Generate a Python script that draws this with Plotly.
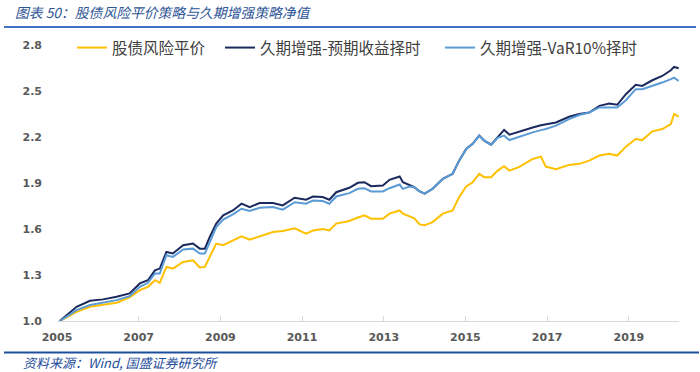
import plotly.graph_objects as go

# ---- data ----
dates = [
    "2005-01-26", "2005-06-25", "2005-10-23", "2006-02-17", "2006-06-18", "2006-10-12",
    "2007-01-12", "2007-03-25", "2007-05-27", "2007-07-09", "2007-09-06", "2007-11-03",
    "2008-02-03", "2008-05-01", "2008-07-01", "2008-08-15", "2008-09-28", "2008-11-25",
    "2009-01-26", "2009-04-23", "2009-07-09", "2009-09-20", "2009-12-17", "2010-04-16",
    "2010-07-13", "2010-10-27", "2011-02-06", "2011-04-09", "2011-07-05", "2011-09-02",
    "2011-11-03", "2012-02-28", "2012-05-15", "2012-07-12", "2012-09-09", "2012-12-24",
    "2013-02-21", "2013-05-23", "2013-06-21", "2013-08-18", "2013-10-01", "2013-11-18",
    "2014-01-01", "2014-03-14", "2014-06-13", "2014-09-09", "2014-11-06", "2015-01-08",
    "2015-03-07", "2015-05-05", "2015-06-18", "2015-08-19", "2015-10-16", "2015-12-13",
    "2016-01-30", "2016-04-27", "2016-08-25", "2016-11-06", "2016-12-20", "2017-03-21",
    "2017-07-16", "2017-10-15", "2018-01-12", "2018-04-13", "2018-07-09", "2018-09-20",
    "2018-12-06", "2019-03-04", "2019-05-01", "2019-07-31", "2019-10-27", "2020-01-12",
    "2020-02-10", "2020-03-22",
]

risk_parity = [
    1.0, 1.06, 1.093, 1.106, 1.119, 1.154, 1.201, 1.223, 1.266, 1.249, 1.353, 1.342,
    1.385, 1.396, 1.349, 1.353, 1.418, 1.505, 1.494, 1.526, 1.552, 1.531, 1.552, 1.58,
    1.587, 1.605, 1.57, 1.59, 1.60, 1.591, 1.635, 1.652, 1.675, 1.689, 1.667, 1.667,
    1.70, 1.721, 1.70, 1.685, 1.67, 1.63, 1.624, 1.645, 1.70, 1.721, 1.808, 1.877,
    1.905, 1.96, 1.938, 1.938, 1.981, 2.01, 1.981, 2.005, 2.057, 2.072, 2.007, 1.99,
    2.018, 2.025, 2.046, 2.079, 2.09, 2.079, 2.137, 2.187, 2.18, 2.237, 2.252, 2.284,
    2.35, 2.332,
]

duration_expected = [
    1.0, 1.093, 1.132, 1.141, 1.158, 1.18, 1.245, 1.266, 1.33, 1.342, 1.45, 1.44,
    1.494, 1.505, 1.472, 1.472, 1.548, 1.635, 1.689, 1.721, 1.765, 1.743, 1.769, 1.769,
    1.754, 1.804, 1.791, 1.812, 1.808, 1.791, 1.84, 1.869, 1.901, 1.905, 1.879, 1.884,
    1.921, 1.942, 1.905, 1.884, 1.873, 1.845, 1.83, 1.862, 1.927, 1.96, 2.046, 2.122,
    2.155, 2.209, 2.176, 2.15, 2.198, 2.246, 2.215, 2.237, 2.262, 2.277, 2.284, 2.295,
    2.332, 2.35, 2.36, 2.403, 2.418, 2.41, 2.479, 2.54, 2.533, 2.57, 2.598, 2.635,
    2.657, 2.648,
]

duration_var = [
    1.0, 1.071, 1.104, 1.119, 1.136, 1.162, 1.223, 1.249, 1.31, 1.31, 1.429, 1.418,
    1.466, 1.472, 1.44, 1.44, 1.515, 1.613, 1.661, 1.695, 1.732, 1.717, 1.739, 1.743,
    1.726, 1.775, 1.765, 1.786, 1.782, 1.765, 1.812, 1.834, 1.862, 1.866, 1.845, 1.845,
    1.866, 1.89, 1.862, 1.877, 1.873, 1.845, 1.832, 1.862, 1.927, 1.96, 2.046, 2.122,
    2.155, 2.209, 2.176, 2.15, 2.194, 2.209, 2.18, 2.202, 2.23, 2.245, 2.252, 2.274,
    2.317, 2.343, 2.36, 2.393, 2.393, 2.393, 2.44, 2.512, 2.512, 2.533, 2.555, 2.577,
    2.587, 2.566,
]

series_names = ["股债风险平价", "久期增强-预期收益择时", "久期增强-VaR10%择时"]
series_colors = ["#FFC000", "#1B2A5E", "#5B9BD5"]
y_ticks = [1.0, 1.3, 1.6, 1.9, 2.2, 2.5, 2.8]
x_ticks = ["2005-01-01", "2007-01-01", "2009-01-01", "2011-01-01",
           "2013-01-01", "2015-01-01", "2017-01-01", "2019-01-01"]
x_labels = ["2005", "2007", "2009", "2011", "2013", "2015", "2017", "2019"]

title_text = "图表 50：股债风险平价策略与久期增强策略净值"
source_text = "资料来源：Wind, 国盛证券研究所"

# ---- figure ----
W, H = 700, 372
L, R, T, B = 57, 21, 45, 51
pw, ph = W - L - R, H - T - B


def px(xp):
    return (xp - L) / pw


def py(yp):
    return (H - B - yp) / ph


fig = go.Figure()
legend_ids = ["legend", "legend2", "legend3"]
for vals, name, color, lg in zip([risk_parity, duration_expected, duration_var],
                                 series_names, series_colors, legend_ids):
    fig.add_trace(go.Scatter(x=dates, y=vals, name=name, mode="lines",
                             line=dict(color=color, width=2), legend=lg))

legend_font = dict(family="Noto Sans CJK SC", size=15.5, color="#404040")
legend_x = [72, 220, 440]
legend_common = dict(orientation="h", yanchor="middle", xanchor="left",
                     y=py(48), font=legend_font, bgcolor="rgba(0,0,0,0)",
                     borderwidth=0, tracegroupgap=0)

fig.update_layout(
    width=W, height=H,
    margin=dict(l=L, r=R, t=T, b=B, pad=0),
    paper_bgcolor="white", plot_bgcolor="white",
    showlegend=True,
    legend=dict(x=px(legend_x[0]), **legend_common),
    legend2=dict(x=px(legend_x[1]), **legend_common),
    legend3=dict(x=px(legend_x[2]), **legend_common),
    title=dict(text=title_text, xref="container", yref="container",
               x=15 / W, y=1 - 13 / H, xanchor="left", yanchor="middle",
               font=dict(family="Noto Sans CJK SC", size=13.8, color="#2F5597",
                         style="italic")),
    xaxis=dict(
        type="date", range=["2005-01-01", "2020-03-25"],
        tickvals=x_ticks, ticktext=x_labels,
        showgrid=False, zeroline=False,
        showline=True, linecolor="#D9D9D9", linewidth=1,
        ticks="inside", ticklen=5, tickcolor="#D9D9D9", tickwidth=1,
        tickfont=dict(family="DejaVu Sans", size=11, color="#595959", weight="bold"),
        ticklabelstandoff=6,
    ),
    yaxis=dict(
        range=[1.0, 2.8], tickvals=y_ticks, tickformat=".1f",
        showgrid=False, zeroline=False, showline=False, ticks="",
        tickfont=dict(family="DejaVu Sans", size=11, color="#595959", weight="bold"),
        ticklabelstandoff=14,
    ),
)

fig.add_annotation(text=source_text, xref="paper", yref="paper",
                   x=px(21), y=py(362), xanchor="left", yanchor="middle",
                   align="left", showarrow=False,
                   font=dict(family="Noto Sans CJK SC", size=13, color="#1F4E9A",
                             style="italic"))
fig.add_shape(type="line", xref="paper", yref="paper",
              x0=px(4), x1=px(696), y0=py(27), y1=py(27),
              line=dict(color="#4472C4", width=2))
fig.add_shape(type="line", xref="paper", yref="paper",
              x0=px(4), x1=px(699), y0=py(352.5), y1=py(352.5),
              line=dict(color="#1F4E9A", width=2))

fig.write_html("out.html",
               config={"displayModeBar": False},
               post_script="document.body.style.margin='0px';")
